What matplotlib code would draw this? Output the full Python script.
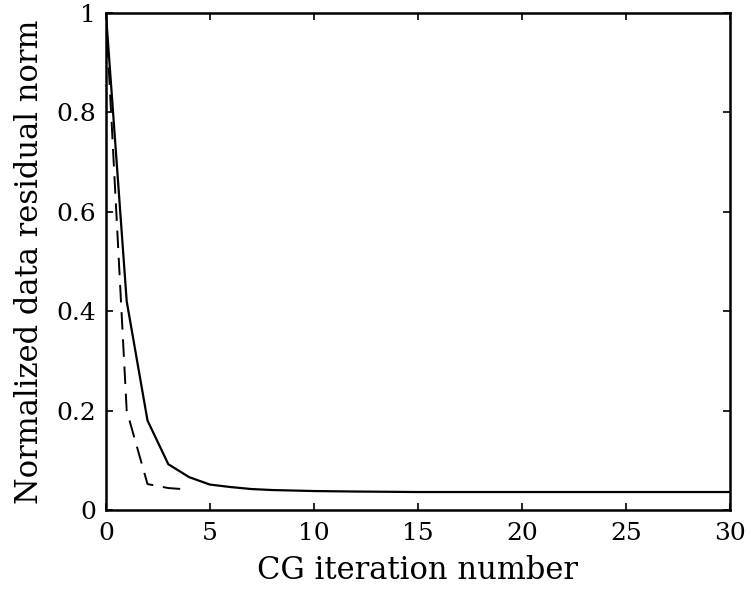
import matplotlib
matplotlib.use("Agg")
import matplotlib.pyplot as plt

# Solid curve
iters_solid = [0, 1, 2, 3, 4, 5, 6, 7, 8, 9, 10, 12, 15, 20, 25, 30]
resid_solid = [1.0, 0.42, 0.18, 0.092, 0.066, 0.051, 0.046, 0.042, 0.040, 0.039, 0.038,
               0.037, 0.036, 0.036, 0.036, 0.036]
# Dashed curve
iters_dash = [0, 1, 2, 3, 4]
resid_dash = [1.0, 0.2, 0.052, 0.044, 0.041]

xticks = [0, 5, 10, 15, 20, 25, 30]
yticks = [0, 0.2, 0.4, 0.6, 0.8, 1]
ytick_labels = ["0", "0.2", "0.4", "0.6", "0.8", "1"]

plt.rcParams['font.family'] = ['DejaVu Serif']

fig = plt.figure(figsize=(7.51, 5.95), dpi=100)
ax = fig.add_axes([0.141, 0.143, 0.831, 0.835])

ax.plot(iters_solid, resid_solid, color='black', lw=1.6, solid_joinstyle='miter')
ax.plot(iters_dash, resid_dash, color='black', lw=1.4, dashes=(9, 5))

ax.set_xlim(0, 30)
ax.set_ylim(0, 1)
ax.set_xticks(xticks)
ax.set_yticks(yticks)
ax.set_yticklabels(ytick_labels)
ax.tick_params(direction='in', length=5, width=1.2, top=True, right=True,
               labelsize=18)
ax.tick_params(axis='x', pad=9)
ax.tick_params(axis='y', pad=7)
for s in ax.spines.values():
    s.set_linewidth(1.8)

ax.set_xlabel("CG iteration number", fontsize=22, labelpad=7)
ax.set_ylabel("Normalized data residual norm", fontsize=22, labelpad=8)

fig.savefig("out.png", dpi=100)
